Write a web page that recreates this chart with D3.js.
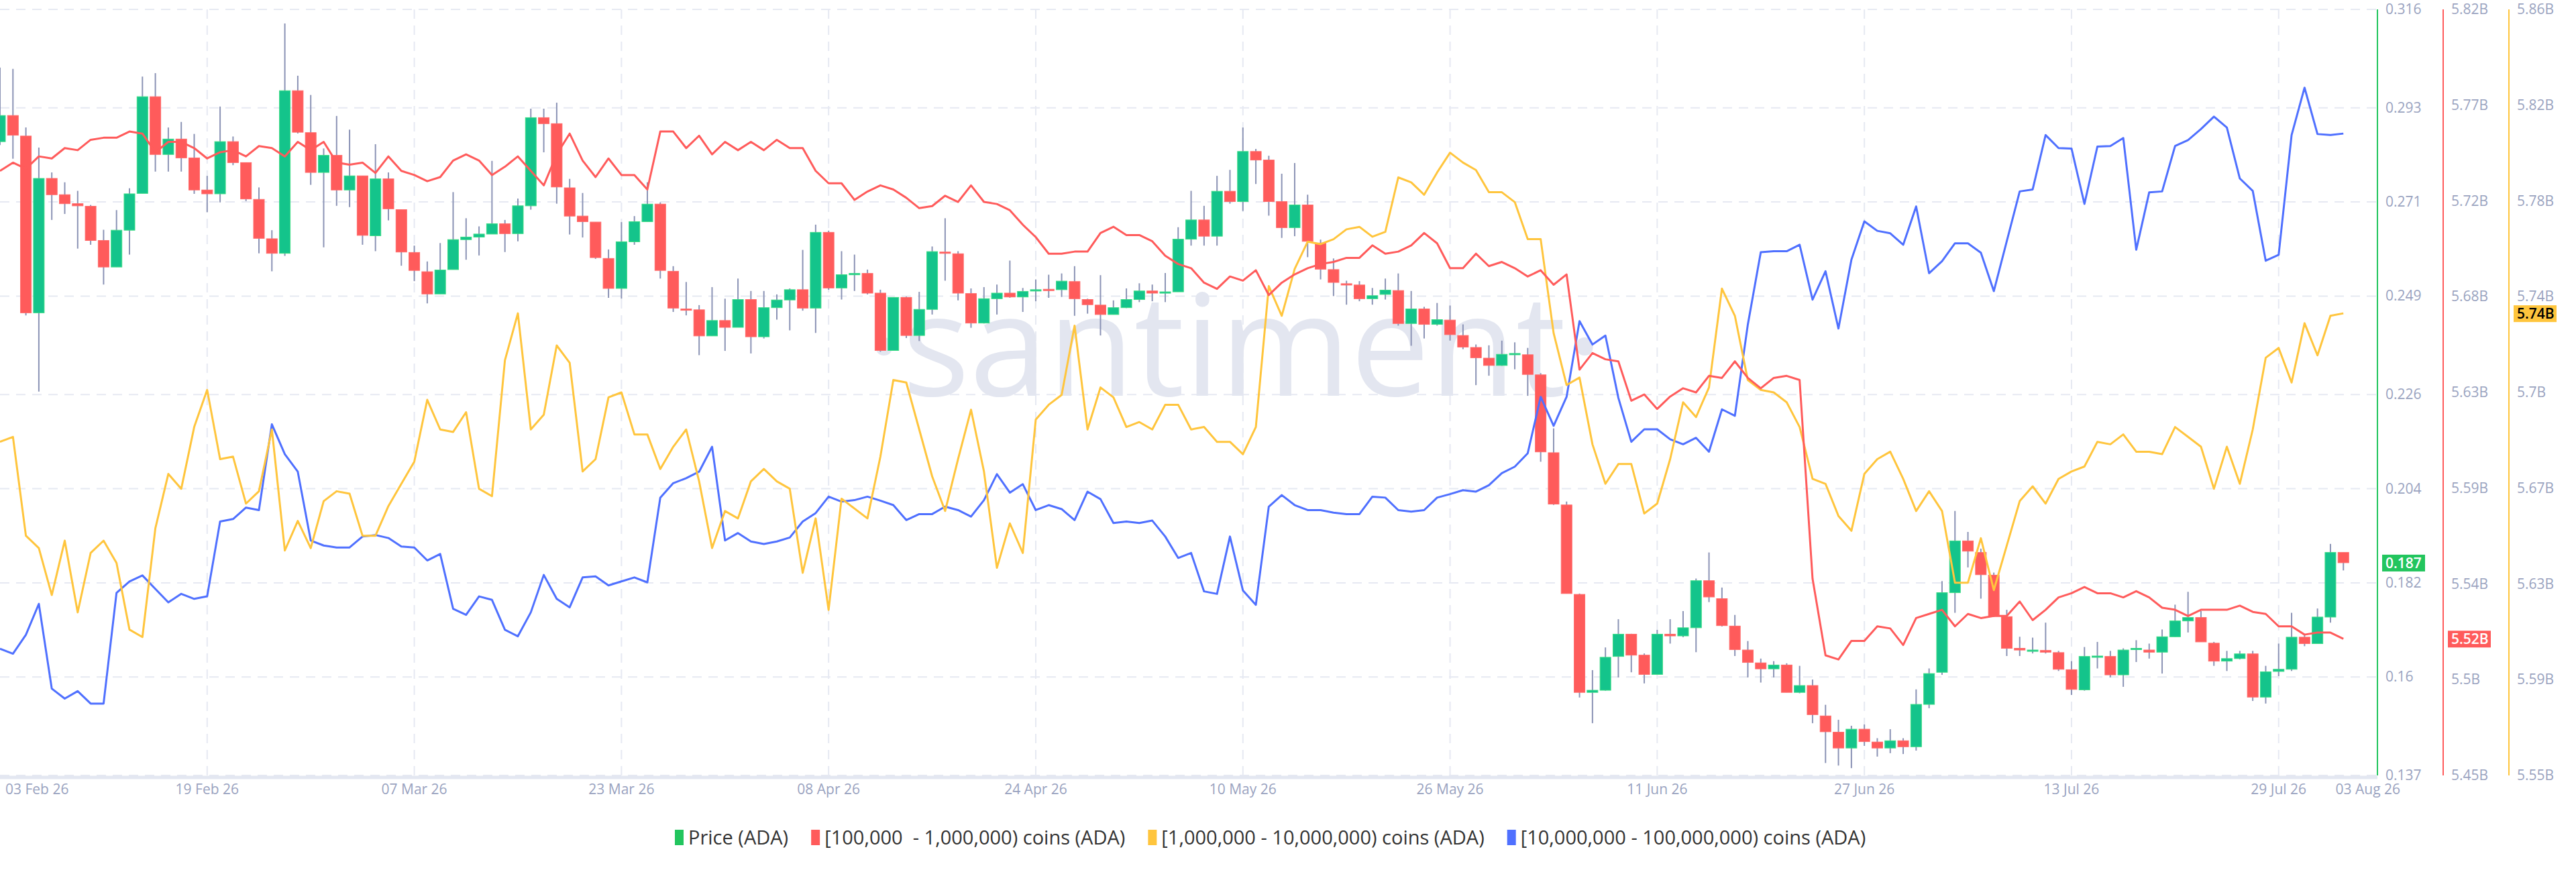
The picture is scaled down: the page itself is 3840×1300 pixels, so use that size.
<!DOCTYPE html>
<html><head><meta charset="utf-8">
<script src="https://cdn.jsdelivr.net/npm/d3@7"></script>
<style>body{margin:0;background:#fff;}svg{display:block;font-family:"Open Sans","Noto Sans",sans-serif;}</style>
</head><body><svg id="c" width="3840" height="1300"></svg>
<script>
const startDate = "2026-02-03";
const open = [.2851,.2912,.2864,.2451,.2765,.2727,.2706,.2700,.2620,.2558,.2644,.2730,.2956,.2821,.2857,.2813,.2738,.2729,.2851,.2802,.2716,.2624,.2590,.2970,.2872,.2779,.2819,.2738,.2771,.2631,.2764,.2692,.2592,.2547,.2495,.2552,.2622,.2628,.2635,.2659,.2636,.2701,.2907,.2893,.2743,.2677,.2663,.2578,.2508,.2617,
.2664,.2705,.2548,.2460,.2458,.2397,.2433,.2417,.2482,.2395,.2463,.2481,.2505,.2462,.2639,.2509,.2540,.2543,.2497,.2363,.2487,.2398,.2459,.2593,.2589,.2496,.2427,.2484,.2497,.2488,.2502,.2506,.2505,.2524,.2482,.2469,.2447,.2463,.2482,.2502,.2497,.2500,.2623,.2668,.2630,.2735,.2711,
.2828,.2808,.2711,.2650,.2703,.2614,.2552,.2519,.2516,.2484,.2494,.2503,.2426,.2460,.2424,.2434,.2398,.2370,.2345,.2328,.2354,.2353,.2306,.2124,.2002,.1793,.1564,.1569,.1648,.1700,.1651,.1606,.1700,.1696,.1715,.1825,.1783,.1719,.1663,.1633,.1619,.1628,.1564,.1580,.1509,.1471,.1434,
.1478,.1448,.1434,.1451,.1437,.1536,.1611,.1797,.1918,.1891,.1838,.1741,.1667,.1662,.1662,.1657,.1617,.1570,.1648,.1648,.1605,.1665,.1663,.1658,.1694,.1731,.1739,.1679,.1637,.1643,.1654,.1553,.1613,.1618,.1693,.1678,.1740,.1891];
const close = [.2912,.2866,.2451,.2765,.2727,.2706,.2701,.2620,.2558,.2644,.2729,.2956,.2821,.2857,.2813,.2738,.2729,.2851,.2802,.2717,.2625,.2590,.2970,.2873,.2779,.2819,.2738,.2771,.2632,.2764,.2694,.2593,.2550,.2495,.2551,.2622,.2628,.2635,.2659,.2636,.2701,.2907,.2893,.2745,.2677,.2664,.2580,.2508,.2617,.2664,
.2705,.2550,.2462,.2458,.2397,.2433,.2417,.2482,.2395,.2463,.2481,.2505,.2462,.2639,.2509,.2540,.2543,.2497,.2363,.2487,.2398,.2459,.2594,.2590,.2497,.2427,.2484,.2497,.2488,.2501,.2505,.2504,.2525,.2484,.2470,.2447,.2463,.2482,.2502,.2497,.2500,.2623,.2668,.2630,.2735,.2711,.2828,
.2808,.2711,.2650,.2703,.2618,.2553,.2522,.2517,.2484,.2491,.2504,.2426,.2460,.2424,.2435,.2400,.2371,.2346,.2328,.2354,.2356,.2307,.2126,.2004,.1795,.1564,.1569,.1646,.1700,.1651,.1606,.1700,.1696,.1715,.1825,.1787,.1720,.1664,.1634,.1619,.1628,.1564,.1580,.1512,.1472,.1434,.1478,
.1449,.1434,.1451,.1437,.1536,.1608,.1797,.1918,.1894,.1839,.1742,.1667,.1663,.1663,.1658,.1618,.1571,.1648,.1649,.1605,.1663,.1667,.1658,.1694,.1731,.1739,.1682,.1637,.1643,.1654,.1553,.1612,.1618,.1693,.1678,.1740,.1891,.1867];
const high = [.3024,.3021,.2884,.2837,.2779,.2756,.2736,.2703,.2645,.2691,.2742,.3003,.3011,.2884,.2897,.2869,.2771,.2933,.2863,.2802,.2744,.2644,.3127,.3005,.2960,.2835,.2911,.2879,.2771,.2845,.2779,.2692,.2608,.2571,.2614,.2733,.2672,.2653,.2806,.2668,.2718,.2928,.2928,.2942,.2764,.2731,.2663,.2599,.2663,.2677,
.2756,.2709,.2560,.2523,.2469,.2511,.2484,.2531,.2502,.2502,.2494,.2508,.2598,.2657,.2643,.2595,.2587,.2552,.2505,.2487,.2489,.2500,.2606,.2672,.2595,.2508,.2511,.2517,.2573,.2509,.2529,.2540,.2543,.2560,.2484,.2539,.2480,.2508,.2520,.2517,.2544,.2651,.2736,.2701,.2771,.2785,.2884,
.2834,.2818,.2776,.2801,.2727,.2622,.2578,.2526,.2525,.2509,.2531,.2543,.2502,.2465,.2474,.2468,.2424,.2377,.2375,.2386,.2382,.2369,.2310,.2181,.2010,.1795,.1616,.1669,.1735,.1701,.1655,.1710,.1735,.1754,.1830,.1891,.1809,.1745,.1684,.1643,.1637,.1632,.1626,.1594,.1535,.1500,.1486,
.1489,.1457,.1478,.1457,.1571,.1620,.1824,.1988,.1939,.1900,.1844,.1757,.1694,.1692,.1727,.1661,.1637,.1670,.1682,.1661,.1667,.1686,.1678,.1711,.1769,.1799,.1754,.1682,.1661,.1661,.1661,.1626,.1678,.1750,.1701,.1760,.1911,.1891];
const low = [.2843,.2811,.2445,.2267,.2668,.2682,.2601,.2610,.2517,.2558,.2587,.2730,.2781,.2781,.2781,.2729,.2686,.2709,.2796,.2712,.2590,.2548,.2584,.2870,.2750,.2604,.2701,.2698,.2610,.2595,.2667,.2561,.2525,.2473,.2495,.2552,.2575,.2585,.2635,.2593,.2618,.2692,.2826,.2706,.2634,.2627,.2577,.2486,.2484,.2610,
.2664,.2531,.2453,.2445,.2352,.2397,.2362,.2417,.2356,.2391,.2435,.2410,.2456,.2404,.2505,.2482,.2502,.2494,.2360,.2363,.2392,.2385,.2447,.2526,.2480,.2416,.2426,.2447,.2486,.2453,.2478,.2486,.2488,.2444,.2449,.2398,.2447,.2462,.2476,.2478,.2476,.2500,.2608,.2608,.2608,.2706,.2689,
.2752,.2678,.2626,.2630,.2581,.2529,.2490,.2470,.2478,.2470,.2482,.2421,.2374,.2391,.2421,.2386,.2366,.2282,.2304,.2327,.2319,.2257,.2103,.2002,.1795,.1552,.1492,.1568,.1599,.1611,.1585,.1606,.1678,.1693,.1658,.1775,.1718,.1649,.1599,.1587,.1599,.1564,.1562,.1492,.1399,.1393,.1387,
.1439,.1414,.1422,.1420,.1428,.1527,.1605,.1750,.1856,.1783,.1740,.1649,.1649,.1655,.1655,.1614,.1558,.1568,.1620,.1599,.1577,.1635,.1643,.1608,.1694,.1704,.1682,.1626,.1614,.1641,.1544,.1538,.1602,.1614,.1672,.1678,.1727,.1849];
const holders100k = [5.742,5.746,5.743,5.749,5.748,5.753,5.752,5.757,5.758,5.758,5.761,5.760,5.751,5.756,5.756,5.753,5.748,5.751,5.752,5.749,5.754,5.753,5.749,5.756,5.752,5.756,5.746,5.745,5.746,5.741,5.749,5.742,5.740,5.737,5.739,5.747,5.750,5.747,5.740,5.744,5.749,5.742,5.735,5.750,5.760,5.747,5.739,5.748,5.740,5.740,
5.733,5.761,5.761,5.753,5.759,5.750,5.756,5.752,5.756,5.752,5.757,5.753,5.753,5.742,5.736,5.736,5.728,5.732,5.735,5.733,5.729,5.724,5.725,5.730,5.727,5.735,5.727,5.726,5.723,5.716,5.710,5.702,5.702,5.703,5.703,5.712,5.715,5.711,5.711,5.708,5.701,5.697,5.695,5.688,5.685,5.691,5.689,
5.694,5.682,5.688,5.692,5.695,5.697,5.698,5.700,5.700,5.706,5.702,5.703,5.706,5.712,5.707,5.695,5.695,5.702,5.696,5.698,5.695,5.691,5.694,5.687,5.692,5.646,5.654,5.651,5.650,5.631,5.634,5.627,5.633,5.637,5.635,5.643,5.642,5.650,5.642,5.637,5.642,5.643,5.641,5.545,5.508,5.506,5.515,
5.515,5.522,5.521,5.513,5.526,5.528,5.530,5.522,5.528,5.526,5.527,5.527,5.534,5.525,5.530,5.536,5.538,5.541,5.538,5.538,5.536,5.539,5.536,5.531,5.530,5.527,5.530,5.530,5.530,5.532,5.529,5.528,5.522,5.522,5.518,5.519,5.519,5.516];
const holders1m = [5.685,5.687,5.647,5.642,5.623,5.645,5.616,5.640,5.645,5.636,5.609,5.606,5.650,5.672,5.666,5.691,5.706,5.678,5.679,5.660,5.665,5.690,5.641,5.653,5.642,5.661,5.665,5.664,5.647,5.647,5.659,5.668,5.677,5.702,5.690,5.689,5.697,5.666,5.663,5.718,5.737,5.690,5.696,5.724,5.717,5.673,5.678,5.703,5.705,5.688,
5.688,5.674,5.683,5.690,5.669,5.642,5.657,5.654,5.669,5.674,5.669,5.666,5.632,5.654,5.617,5.662,5.658,5.654,5.679,5.710,5.709,5.690,5.671,5.657,5.678,5.698,5.673,5.634,5.652,5.640,5.694,5.700,5.704,5.732,5.690,5.707,5.703,5.691,5.693,5.690,5.700,5.700,5.690,5.691,5.685,5.685,5.680,
5.691,5.748,5.736,5.755,5.766,5.765,5.767,5.771,5.772,5.768,5.770,5.792,5.790,5.785,5.794,5.802,5.798,5.795,5.786,5.786,5.782,5.767,5.767,5.729,5.708,5.711,5.684,5.668,5.676,5.676,5.656,5.660,5.678,5.701,5.695,5.707,5.747,5.736,5.710,5.706,5.705,5.701,5.691,5.670,5.668,5.655,5.649,
5.672,5.678,5.681,5.670,5.657,5.665,5.657,5.628,5.628,5.646,5.625,5.643,5.661,5.667,5.660,5.670,5.673,5.675,5.685,5.684,5.688,5.681,5.681,5.680,5.691,5.687,5.683,5.666,5.683,5.668,5.690,5.719,5.723,5.709,5.733,5.720,5.736,5.737];
const holders10m = [1.1700,1.1690,1.1728,1.1790,1.1620,1.1600,1.1615,1.1590,1.1590,1.1812,1.1835,1.1847,1.1820,1.1793,1.1810,1.1800,1.1805,1.1955,1.1960,1.1983,1.1978,1.2150,1.2090,1.2055,1.1917,1.1907,1.1903,1.1903,1.1925,1.1928,1.1922,1.1905,1.1903,1.1877,1.1890,1.1780,1.1768,1.1805,1.1798,1.1738,1.1725,1.1773,1.1848,1.1800,1.1783,1.1843,1.1845,1.1827,1.1835,1.1843,
1.1833,1.2003,1.2032,1.2042,1.2055,1.2105,1.1917,1.1932,1.1915,1.1910,1.1915,1.1923,1.1955,1.1972,1.2005,1.1995,1.1998,1.2005,1.1997,1.1988,1.1958,1.1970,1.1970,1.1985,1.1978,1.1965,1.1998,1.2050,1.2013,1.2030,1.1978,1.1988,1.1980,1.1958,1.2015,1.2000,1.1952,1.1955,1.1952,1.1957,1.1925,1.1882,1.1892,1.1815,1.1810,1.1925,1.1817,
1.1788,1.1985,1.2008,1.1988,1.1978,1.1978,1.1973,1.1970,1.1970,1.2005,1.2003,1.1978,1.1975,1.1978,1.2003,1.2010,1.2018,1.2015,1.2028,1.2052,1.2065,1.2092,1.2205,1.2147,1.2205,1.2357,1.2310,1.2328,1.2203,1.2115,1.2140,1.2140,1.2120,1.2110,1.2123,1.2095,1.2180,1.2167,1.2350,1.2495,1.2497,1.2497,1.2510,1.2400,1.2457,1.2342,1.2480,
1.2557,1.2538,1.2533,1.2510,1.2587,1.2453,1.2477,1.2513,1.2513,1.2494,1.2417,1.2517,1.2617,1.2621,1.2730,1.2704,1.2703,1.2592,1.2707,1.2708,1.2724,1.2500,1.2615,1.2617,1.2708,1.2720,1.2742,1.2767,1.2745,1.2643,1.2618,1.2478,1.2490,1.2730,1.2825,1.2732,1.2730,1.2733];
const priceTicks = [0.137,0.16,0.182,0.204,0.226,0.249,0.271,0.293,0.316];
const redTicks = ["5.45B","5.5B","5.54B","5.59B","5.63B","5.68B","5.72B","5.77B","5.82B"];
const yellowTicks = ["5.55B","5.59B","5.63B","5.67B","5.7B","5.74B","5.78B","5.82B","5.86B"];
const dateTicks = ["2026-02-03","2026-02-19","2026-03-07","2026-03-23","2026-04-08","2026-04-24","2026-05-10","2026-05-26","2026-06-11","2026-06-27","2026-07-13","2026-07-29"];
const legendNames = ["Price (ADA)","[100,000  - 1,000,000) coins (ADA)","[1,000,000 - 10,000,000) coins (ADA)","[10,000,000 - 100,000,000) coins (ADA)"];

(function(){
const C = {green:"#14c48b", red:"#ff5b5b", yellow:"#ffc53d", blue:"#4f70ff", wick:"#8b93b5", grid:"#e6e9f2", txt:"#9aa3bf"};
const svg = d3.select("#c");
const W=3544, yTop=14, bot=1156;
const parse = d3.utcParse("%Y-%m-%d");
const t0 = parse(startDate);
const dates = close.map((_,i)=>d3.utcDay.offset(t0,i));
const x = d3.scaleUtc().domain([t0, new Date(+t0 + 183.63*864e5)]).range([0,W]);
const yP = d3.scaleLinear().domain([0.137,0.316]).range([bot,yTop]);
const yR = d3.scaleLinear().domain([5.45,5.82]).range([bot,yTop]);
const yY = d3.scaleLinear().domain([5.55,5.86]).range([bot,yTop]);
const yB = d3.scaleLinear().domain([1.1446,1.2982]).range([bot,yTop]);

svg.append("defs").append("clipPath").attr("id","clip").append("rect").attr("x",0).attr("y",0).attr("width",W).attr("height",bot);
const g = svg.append("g");
g.selectAll(".hg").data(priceTicks).join("line").attr("x1",0).attr("x2",W).attr("y1",d=>yP(d)).attr("y2",d=>yP(d))
 .attr("stroke",C.grid).attr("stroke-width",2).attr("stroke-dasharray","14,10");
g.selectAll(".vg").data(dateTicks.slice(1)).join("line").attr("x1",d=>x(parse(d))).attr("x2",d=>x(parse(d))).attr("y1",yTop).attr("y2",bot)
 .attr("stroke",C.grid).attr("stroke-width",2).attr("stroke-dasharray","14,10");
g.append("line").attr("x1",0).attr("x2",W).attr("y1",bot+3).attr("y2",bot+3).attr("stroke","#e3e7f1").attr("stroke-width",5);
svg.append("text").attr("x",1840).attr("y",590).attr("text-anchor","middle").attr("font-size",210).attr("fill","#e3e6f0")
 .attr("font-family","Open Sans, sans-serif").text("·santiment·");

const plot = svg.append("g").attr("clip-path","url(#clip)");
const bw = 16;
const cd = dates.map((d,i)=>({d,o:open[i],c:close[i],h:high[i],l:low[i]}));
plot.selectAll(".wick").data(cd).join("line").attr("x1",d=>x(d.d)).attr("x2",d=>x(d.d)).attr("y1",d=>yP(d.h)).attr("y2",d=>yP(d.l))
 .attr("stroke",C.wick).attr("stroke-width",2);
plot.selectAll(".body").data(cd).join("rect").attr("x",d=>x(d.d)-bw/2).attr("width",bw)
 .attr("y",d=>yP(Math.max(d.o,d.c))).attr("height",d=>Math.max(2,Math.abs(yP(d.o)-yP(d.c))))
 .attr("fill",d=>d.c>=d.o?C.green:C.red).attr("stroke",d=>d.c>=d.o?"#3ddc84":"#ff6b6b").attr("stroke-width",1);
function line(vals, ys, col){
  plot.append("path").datum(vals).attr("fill","none").attr("stroke",col).attr("stroke-width",3).attr("stroke-linejoin","round")
   .attr("d", d3.line().x((v,i)=>x(dates[i])).y(v=>ys(v)));
}
line(holders10m, yB, C.blue);
line(holders1m, yY, C.yellow);
line(holders100k, yR, C.red);

const xl = svg.append("g").attr("font-size",21).attr("fill",C.txt);
dateTicks.forEach((d,i)=>{
  const t = parse(d);
  xl.append("text").attr("x", i===0?8:x(t)).attr("y",1184).attr("text-anchor",i===0?"start":"middle").text(d3.utcFormat("%d %b %y")(t));
});
xl.append("text").attr("x",3578).attr("y",1184).attr("text-anchor","end").text(d3.utcFormat("%d %b %y")(dates[dates.length-1]));

function axis(x0, col, scale, ticks, labels){
  svg.append("line").attr("x1",x0).attr("x2",x0).attr("y1",yTop).attr("y2",bot).attr("stroke",col).attr("stroke-width",2);
  const a = svg.append("g").attr("font-size",21).attr("fill",C.txt);
  ticks.forEach((t,i)=>a.append("text").attr("x",x0+12).attr("y",scale(t)+7).text(labels[i]));
}
axis(3544, "#22c55e", yP, priceTicks, priceTicks.map(d=>String(d)));
axis(3642, C.red, yR, d3.range(9).map(i=>5.45+i*0.37/8), redTicks);
axis(3740, C.yellow, yY, d3.range(9).map(i=>5.55+i*0.31/8), yellowTicks);
function badge(x0, y0, fill, tcol, txt){
  svg.append("rect").attr("x",x0+7).attr("y",y0-12).attr("width",64).attr("height",25).attr("fill",fill);
  svg.append("text").attr("x",x0+12).attr("y",y0+8).attr("font-size",21).attr("font-weight",600).attr("fill",tcol).text(txt);
}
const lc = close[close.length-1], lr = holders100k[holders100k.length-1], ly = holders1m[holders1m.length-1];
badge(3544, yP(lc), "#22c55e", "#fff", lc.toFixed(3));
badge(3642, yR(lr), C.red, "#fff", lr.toFixed(2)+"B");
badge(3740, yY(ly), "#ffc53d", "#000", ly.toFixed(2)+"B");

const lg = svg.append("g").attr("font-size",29).attr("fill","#333");
const cols = ["#22c55e", C.red, C.yellow, C.blue];
let lx = 1006;
legendNames.forEach((n,i)=>{
  lg.append("rect").attr("x",lx).attr("y",1237).attr("width",13).attr("height",23).attr("fill",cols[i]);
  const t = lg.append("text").attr("x",lx+20).attr("y",1259).style("white-space","pre").text(n);
  lx += 20 + t.node().getComputedTextLength() + 34;
});
})();
</script></body></html>
